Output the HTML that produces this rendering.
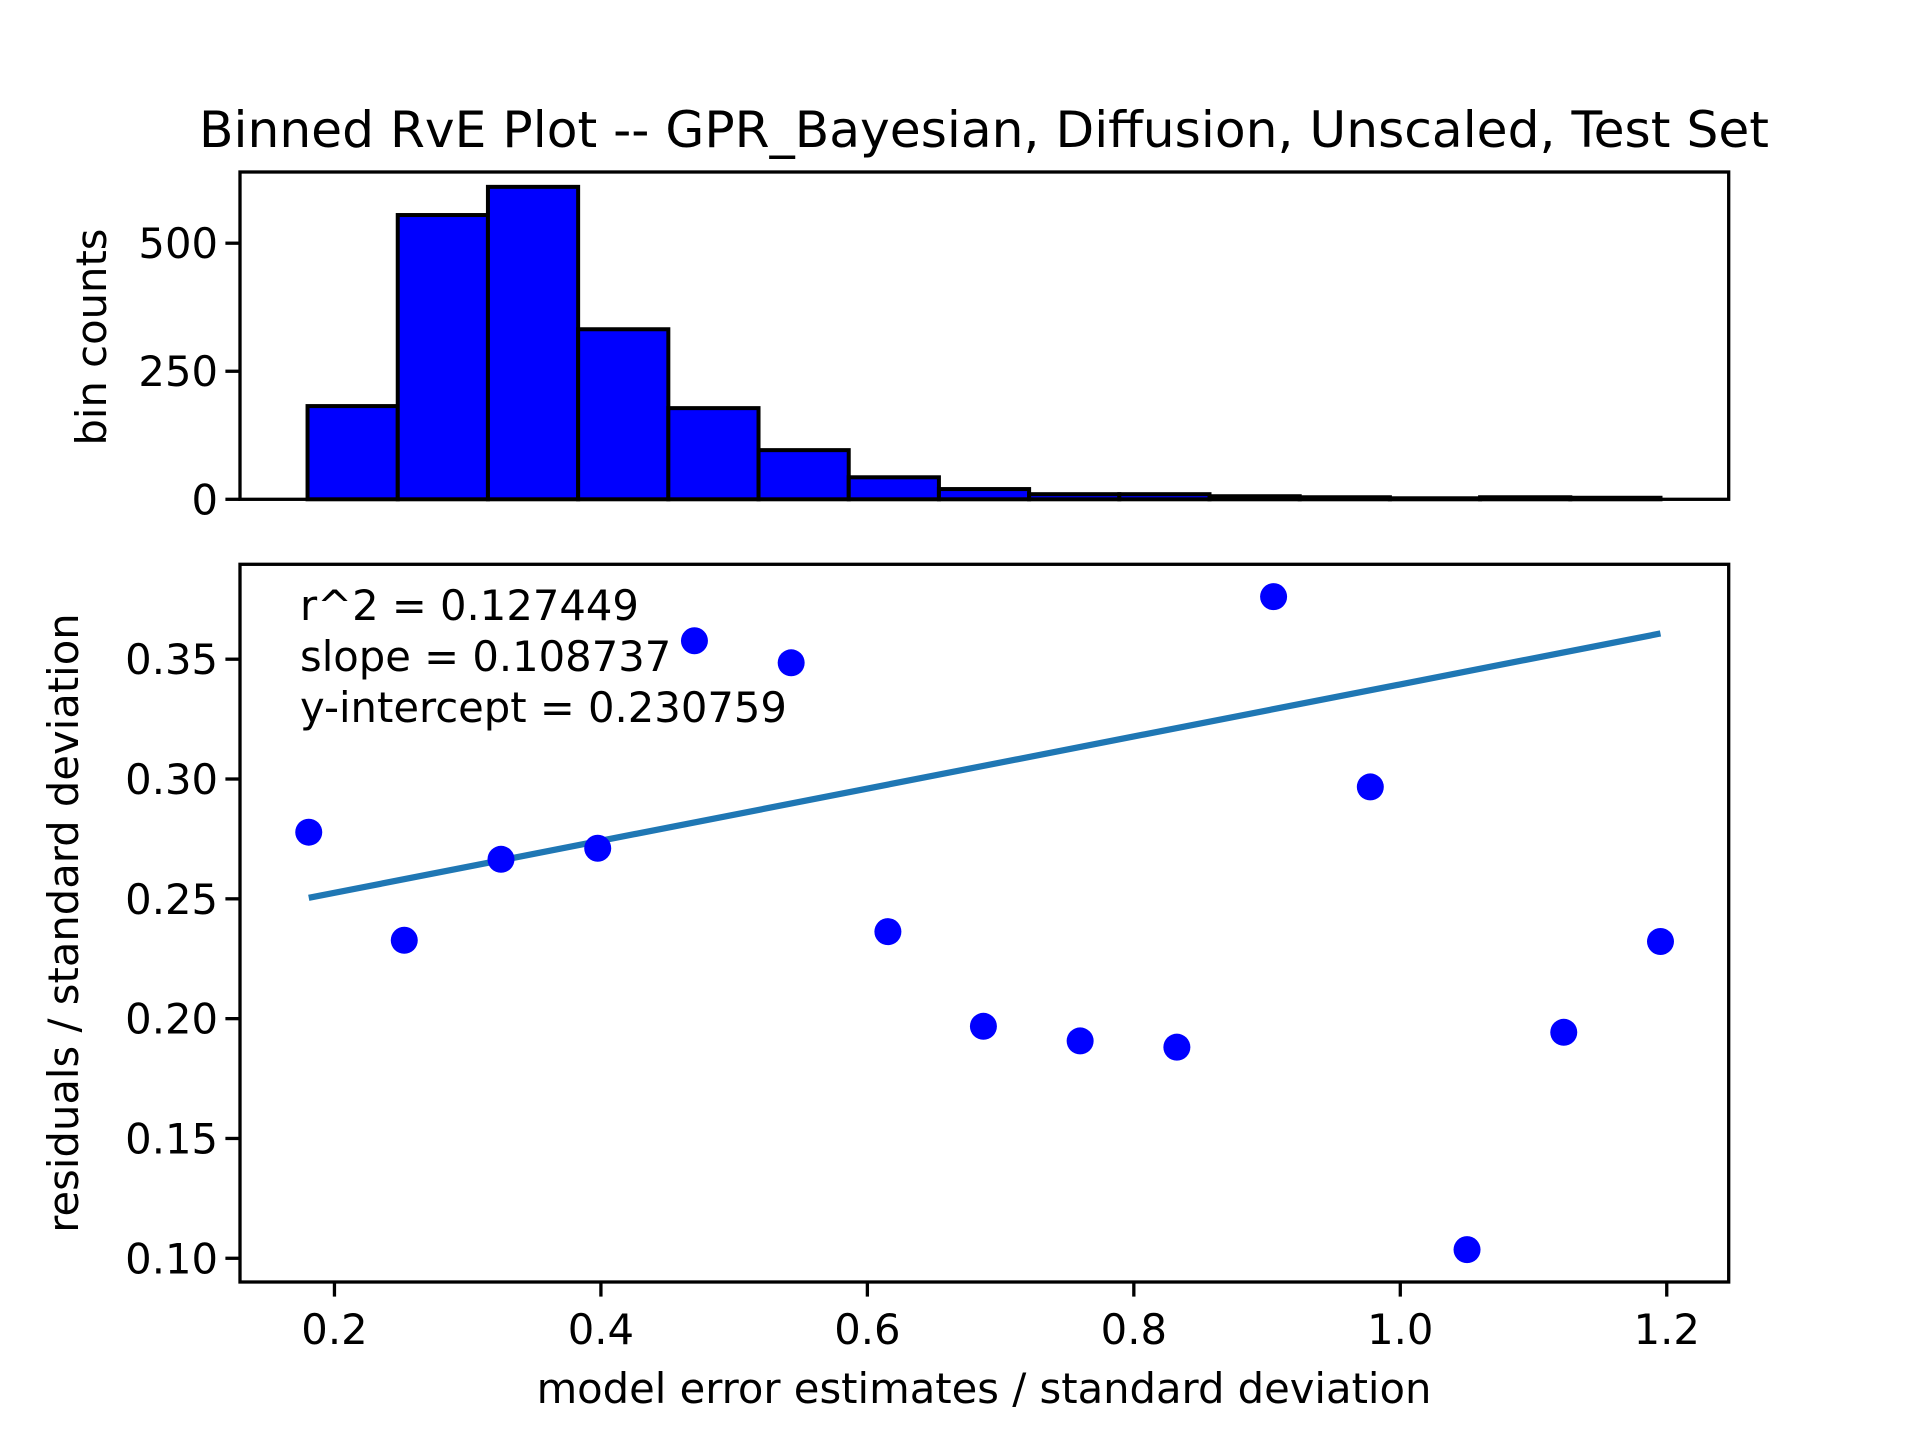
<!DOCTYPE html>
<html><head><meta charset="utf-8"><style>
html,body{margin:0;padding:0;background:#fff;}
svg{display:block;font-family:"DejaVu Sans","Liberation Sans",sans-serif;}
</style></head><body>
<svg id="fig" width="1920" height="1440" viewBox="0 0 1920 1440" xmlns="http://www.w3.org/2000/svg">
<rect width="1920" height="1440" fill="#fff"/>
<text x="984" y="147" font-size="50" text-anchor="middle" textLength="1570" lengthAdjust="spacingAndGlyphs">Binned RvE Plot -- GPR_Bayesian, Diffusion, Unscaled, Test Set</text>
<g id="hist"></g>
<g id="scat"></g>
<text transform="translate(106,337) rotate(-90)" font-size="41.7" text-anchor="middle">bin counts</text>
<text transform="translate(78,923) rotate(-90)" font-size="41.7" text-anchor="middle">residuals / standard deviation</text>
<text x="984" y="1403" font-size="41.7" text-anchor="middle">model error estimates / standard deviation</text>
<text x="300" y="620" font-size="41.7">r^2 = 0.127449</text>
<text x="300" y="671" font-size="41.7">slope = 0.108737</text>
<text x="300" y="722" font-size="41.7">y-intercept = 0.230759</text>
</svg>
<script>
const binEdgeStart = 0.1798;
const binWidth = 0.0677;
const binCounts = [182, 555, 610, 332, 178, 96, 43, 20, 10, 10, 6, 4, 2, 4, 3];
const histTicks = [0, 250, 500];
const pointX = [0.1807,0.2524,0.3250,0.3976,0.4702,0.5428,0.6154,0.6871,0.7597,0.8323,0.9049,0.9775,1.0501,1.1227,1.1953];
const pointY = [0.2778,0.2327,0.2665,0.2711,0.3577,0.3485,0.2363,0.1968,0.1907,0.1881,0.3761,0.2967,0.1036,0.1943,0.2322];
const fitSlope = 0.108737;
const fitIntercept = 0.230759;
const xTicks = [0.2,0.4,0.6,0.8,1.0,1.2];
const xTickLabels = ["0.2","0.4","0.6","0.8","1.0","1.2"];
const yTicks = [0.10,0.15,0.20,0.25,0.30,0.35];
const yTickLabels = ["0.10","0.15","0.20","0.25","0.30","0.35"];

const NS="http://www.w3.org/2000/svg";
const L=240,R=1728.7;
const xMin=0.1291,xMax=1.2465;
const hT=172,hB=499.3,hMax=639;
const sT=564.3,sB=1282,yMin=0.0901,yMax=0.3896;
const sx=v=>L+(v-xMin)/(xMax-xMin)*(R-L);
const hy=v=>hB-v/hMax*(hB-hT);
const sy=v=>sB-(v-yMin)/(yMax-yMin)*(sB-sT);
function mk(tag,attrs,parent){const e=document.createElementNS(NS,tag);for(const k in attrs)e.setAttribute(k,attrs[k]);parent.appendChild(e);return e;}
const H=document.getElementById('hist'),S=document.getElementById('scat');

binCounts.forEach((c,i)=>{
  const x0=sx(binEdgeStart+i*binWidth),x1=sx(binEdgeStart+(i+1)*binWidth);
  const r=mk('rect',{x:x0,y:hy(c),width:x1-x0,height:hy(0)-hy(c),fill:'#0000ff',stroke:'#000','stroke-width':4},H);
  
  
});
histTicks.forEach(t=>{
  const y=hy(t);
  const l=mk('line',{x1:L-14.6,x2:L,y1:y,y2:y,stroke:'#000','stroke-width':3.3},H);
  
  
  const tx=mk('text',{x:L-22,y:y+15,'font-size':41.7,'text-anchor':'end'},H);
  tx.textContent=String(t);
  
  
});
const hf=mk('rect',{x:L,y:hT,width:R-L,height:hB-hT,fill:'none',stroke:'#000','stroke-width':3.3},H);



const x0=pointX[0],x1=pointX[pointX.length-1];
const fl=mk('line',{x1:sx(x0),y1:sy(fitSlope*x0+fitIntercept),x2:sx(x1),y2:sy(fitSlope*x1+fitIntercept),stroke:'#1f77b4','stroke-width':6.25},S);


pointX.forEach((x,i)=>{
  const c=mk('circle',{cx:sx(x),cy:sy(pointY[i]),r:13.5,fill:'#0000ff'},S);
  
  
});
xTicks.forEach((t,i)=>{
  const x=sx(t);
  const l=mk('line',{x1:x,x2:x,y1:sB,y2:sB+14.6,stroke:'#000','stroke-width':3.3},S);
  
  
  const tx=mk('text',{x:x,y:1344,'font-size':41.7,'text-anchor':'middle'},S);
  tx.textContent=xTickLabels[i];
  
  
});
yTicks.forEach((t,i)=>{
  const y=sy(t);
  const l=mk('line',{x1:L-14.6,x2:L,y1:y,y2:y,stroke:'#000','stroke-width':3.3},S);
  
  
  const tx=mk('text',{x:L-22,y:y+15,'font-size':41.7,'text-anchor':'end'},S);
  tx.textContent=yTickLabels[i];
  
  
});
const sf=mk('rect',{x:L,y:sT,width:R-L,height:sB-sT,fill:'none',stroke:'#000','stroke-width':3.3},S);


</script>
</body></html>
